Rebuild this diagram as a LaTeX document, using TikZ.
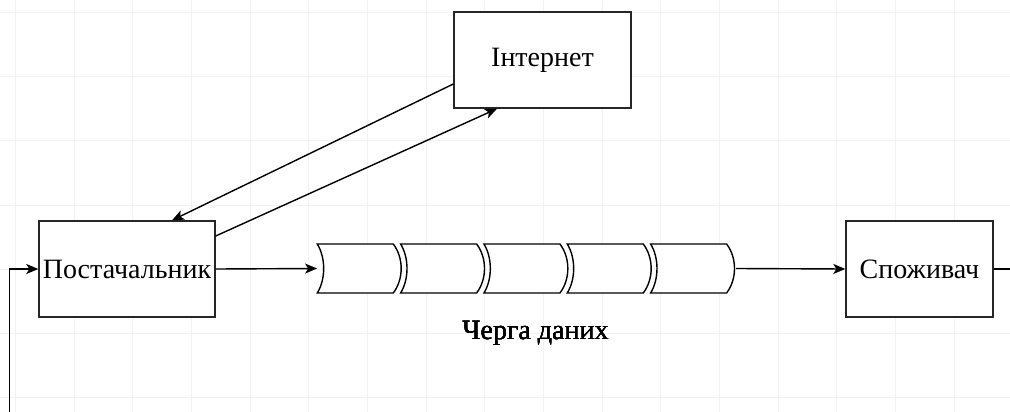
\documentclass[tikz,border=0pt]{standalone}
\usepackage{fontspec}
\setmainfont{Liberation Serif}
\usetikzlibrary{arrows.meta}

\tikzset{
  box/.style={draw=black!85, line width=1.4pt, fill=white, minimum height=96pt,
              inner sep=0pt, font=\fontsize{28}{33}\selectfont},
  link/.style={line width=1.4pt, -{Stealth[length=12pt,width=10pt,inset=3pt]}},
  plain/.style={line width=1.4pt},
  cell/.style={draw=black, line width=1.4pt, fill=white, line join=miter},
  gridline/.style={draw=black!5, line width=0.8pt},
  caption/.style={font=\fontsize{28}{33}\selectfont, inner sep=0pt}
}

% one cell of the queue: left edge at x, concave left side, convex right side
\newcommand{\queuecell}[1]{%
  \path[cell] (#1,244) -- (#1+76,244)
    .. controls (#1+86.5,258) and (#1+86.5,279) .. (#1+76,293)
    -- (#1,293)
    .. controls (#1+8.5,279) and (#1+8.5,258) .. cycle;}

\begin{document}
\begin{tikzpicture}[x=1pt, y=-1pt]
  \useasboundingbox (0,0) rectangle (1010,412);
  \fill[white] (0,0) rectangle (1010,412);

  % background grid
  \foreach \gx in {0,...,16} \draw[gridline] (15.3+58.67*\gx,0) -- (15.3+58.67*\gx,412);
  \foreach \gy in {0,...,6} \draw[gridline] (0,12+64.3*\gy) -- (1010,12+64.3*\gy);

  % blocks
  \node[box, minimum width=176pt] (sup)  at (127,269)   {Постачальник};
  \node[box, minimum width=177pt] (inet) at (542.5,60)  {Інтернет};
  \node[box, minimum width=147pt] (cons) at (919.5,269) {Споживач};

  % data queue
  \node[minimum width=418.4pt, minimum height=49pt, inner sep=0pt] (queue) at (526.5,268.5) {};
  \foreach \qi in {0,...,4} \queuecell{317.3+83.33*\qi}
  \node[caption] (qlabel) at (535.5,333) {Черга даних};

  % free ends
  \coordinate (fb)  at (9.5,412);
  \coordinate (out) at (1010,269);

  % connectors
  \draw[link] ([yshift=-24pt]inet.west) -- ([xshift=45pt]sup.north);
  \draw[link] ([yshift=33pt]sup.east) -- ([xshift=-45.5pt]inet.south);
  \draw[link] (sup.east) -- (queue.west);
  \draw[link] (queue.east) -- (cons.west);
  \draw[plain] (cons.east) -- (out);
  \draw[link] (fb) |- (sup.west);
\end{tikzpicture}
\end{document}
